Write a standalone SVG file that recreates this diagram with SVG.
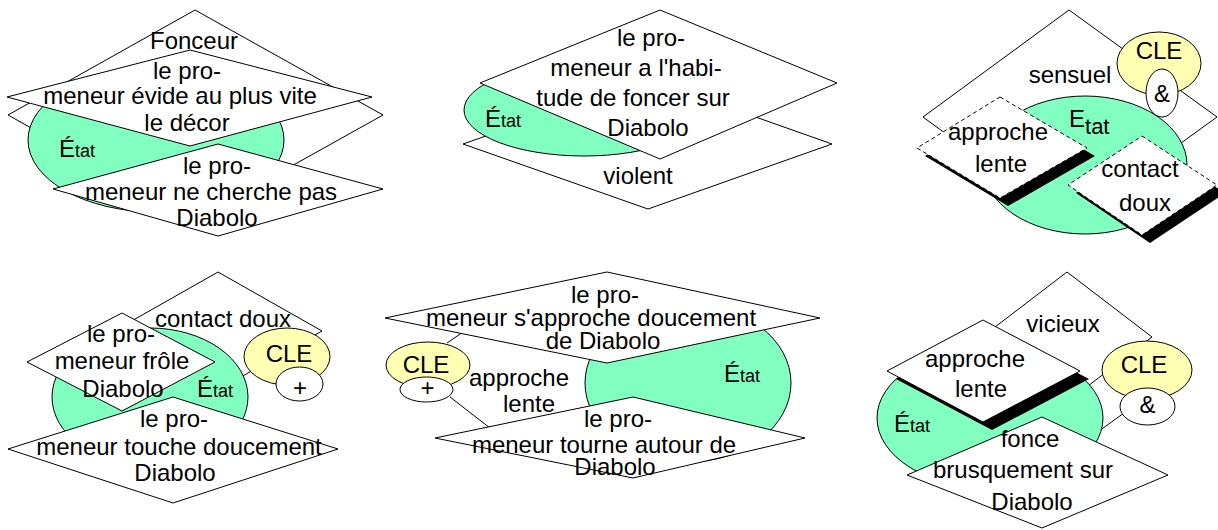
<svg xmlns="http://www.w3.org/2000/svg" width="1218" height="530" viewBox="0 0 1218 530">
<style>
.d{fill:#fff;stroke:#000;stroke-width:1}
.dd{fill:#fff;stroke:#000;stroke-width:1;stroke-dasharray:4 3}
.sh{fill:#000;stroke:none}
.g{fill:#80FFC0;stroke:#000;stroke-width:1}
.y{fill:#FFFFB3;stroke:#000;stroke-width:1}
.w{fill:#fff;stroke:#000;stroke-width:1}
.c{stroke:#000;stroke-width:1;fill:none}
text{font-family:"Liberation Sans",Arial,sans-serif;font-size:24px;fill:#000}
.t{text-anchor:middle}
.sub{font-size:18px}
</style>
<rect width="1218" height="530" fill="#fff"/>
<g id="connectors">
<line class="c" x1="447" y1="343" x2="463" y2="332"/>
<line class="c" x1="450" y1="397" x2="490" y2="428"/>
<line class="c" x1="1099" y1="431" x2="1124" y2="413"/>
</g>
<!-- Panel 1 -->
<g id="p1-fonceur"><polygon class="d" points="195,10 383,115 195,220 8,115"/><text class="t" x="194" y="49">Fonceur</text></g>
<g id="p1-etat"><ellipse class="g" cx="156" cy="140" rx="128" ry="72"/><text x="59" y="157">É<tspan class="sub">tat</tspan></text></g>
<g id="p1-evide"><polygon class="d" points="190,50 372,97 190,146 7,97"/><text class="t" x="187" y="79">le pro-</text><text class="t" x="180" y="104">meneur évide au plus vite</text><text class="t" x="187" y="131">le décor</text></g>
<g id="p1-cherche"><polygon class="d" points="218,144 383,189 218,236 53,189"/><text class="t" x="217" y="174">le pro-</text><text class="t" x="211" y="200">meneur ne cherche pas</text><text class="t" x="217" y="226">Diabolo</text></g>
<!-- Panel 2 -->
<g id="p2-violent"><polygon class="d" points="648,79 832,144 648,209 463,144"/><text class="t" x="638" y="184">violent</text></g>
<g id="p2-etat"><ellipse class="g" cx="584" cy="110" rx="120" ry="46"/><text x="485" y="127">É<tspan class="sub">tat</tspan></text></g>
<g id="p2-habitude"><polygon class="d" points="660,10 837,83 660,159 480,83"/><text class="t" x="651" y="46">le pro-</text><text class="t" x="636" y="76">meneur a l'habi-</text><text class="t" x="633" y="106">tude de foncer sur</text><text class="t" x="648" y="136">Diabolo</text></g>
<!-- Panel 3 -->
<g id="p3-sensuel"><polygon class="d" points="1069,10 1217,117 1069,224 923,117"/><text class="t" x="1070" y="83">sensuel</text></g>
<g id="p3-etat"><ellipse class="g" cx="1085" cy="165" rx="102" ry="69"/><text x="1069" y="127">E<tspan font-size="22" dy="7">tat</tspan></text></g>
<g id="p3-cle"><ellipse class="y" cx="1159" cy="63.5" rx="42" ry="31.5"/><text class="t" x="1159" y="59">CLE</text></g>
<g id="p3-and"><ellipse class="w" cx="1162" cy="93" rx="16" ry="24"/><text class="t" x="1162" y="102">&amp;</text></g>
<g id="p3-approche"><polygon class="sh" points="1008,105 1095,156 1008,206 925,156"/><polygon class="dd" points="1000,97 1087,148 1000,198 917,148"/><text class="t" x="998" y="140">approche</text><text class="t" x="1001" y="172">lente</text></g>
<g id="p3-contact"><polygon class="sh" points="1150,144 1225,193 1150,243 1076,193"/><polygon class="dd" points="1142,136 1217,185 1142,235 1068,185"/><text class="t" x="1140" y="177">contact</text><text class="t" x="1145" y="211">doux</text></g>
<!-- Panel 4 -->
<g id="p4-contact"><polygon class="d" points="218,272 322,331 218,390 114,331"/><text class="t" x="223" y="327">contact doux</text></g>
<g id="p4-etat"><ellipse class="g" cx="150" cy="397" rx="98" ry="69"/><text x="197" y="397">É<tspan class="sub">tat</tspan></text></g>
<g id="p4-frole"><polygon class="d" points="122,313 215,362 122,411 27,362"/><text class="t" x="121" y="342">le pro-</text><text class="t" x="122" y="369">meneur frôle</text><text class="t" x="123" y="397">Diabolo</text></g>
<g id="p4-cle"><ellipse class="y" cx="287" cy="356.5" rx="43" ry="28.5"/><text class="t" x="289" y="362">CLE</text></g>
<g id="p4-plus"><ellipse class="w" cx="299.5" cy="384" rx="23.5" ry="17"/><text class="t" x="300" y="396">+</text></g>
<g id="p4-touche"><polygon class="d" points="173,397 338,449 173,503 8,449"/><text class="t" x="174" y="427">le pro-</text><text class="t" x="179" y="455">meneur touche doucement</text><text class="t" x="175" y="481">Diabolo</text></g>
<!-- Panel 5 -->
<g id="p5-etat"><ellipse class="g" cx="688" cy="383" rx="103" ry="79"/><text x="724" y="382">É<tspan class="sub">tat</tspan></text></g>
<g id="p5-approche-doux"><polygon class="d" points="607,272 820,318 607,363 385,318"/><text class="t" x="605" y="303">le pro-</text><text class="t" x="591" y="326">meneur s'approche doucement</text><text class="t" x="603" y="349">de Diabolo</text></g>
<g id="p5-cle"><ellipse class="y" cx="428" cy="365" rx="42" ry="23"/><text class="t" x="426" y="373">CLE</text></g>
<g id="p5-plus"><ellipse class="w" cx="426.5" cy="389.5" rx="26.5" ry="12.5"/><text class="t" x="427.5" y="396">+</text></g>
<g id="p5-lente"><text class="t" x="519" y="386">approche</text><text class="t" x="529" y="412">lente</text></g>
<g id="p5-tourne"><polygon class="d" points="633,397 805,438 633,478 435,438"/><text class="t" x="618" y="427">le pro-</text><text class="t" x="604" y="453">meneur tourne autour de</text><text class="t" x="615" y="475">Diabolo</text></g>
<!-- Panel 6 -->
<g id="p6-vicieux"><polygon class="d" points="1067,272 1152,337 1067,402 982,337"/><text class="t" x="1063" y="332">vicieux</text></g>
<g id="p6-etat"><ellipse class="g" cx="990" cy="418" rx="113" ry="70"/><text x="894" y="432">É<tspan class="sub">tat</tspan></text></g>
<g id="p6-approche"><polygon class="sh" points="992,328 1089,379 992,430 896,379"/><polygon class="d" points="983,320 1080,371 983,422 887,371"/><text class="t" x="975" y="367">approche</text><text class="t" x="981" y="397">lente</text></g>
<g id="p6-cle"><ellipse class="y" cx="1147" cy="370" rx="45" ry="29"/><text class="t" x="1144" y="373">CLE</text></g>
<g id="p6-and"><ellipse class="w" cx="1147.5" cy="406.5" rx="27.5" ry="18.5"/><text class="t" x="1147.5" y="413">&amp;</text></g>
<g id="p6-fonce"><polygon class="d" points="1042,417 1168,475 1042,528 907,475"/><text class="t" x="1030" y="447">fonce</text><text class="t" x="1023" y="478">brusquement sur</text><text class="t" x="1032" y="510">Diabolo</text></g>
</svg>
